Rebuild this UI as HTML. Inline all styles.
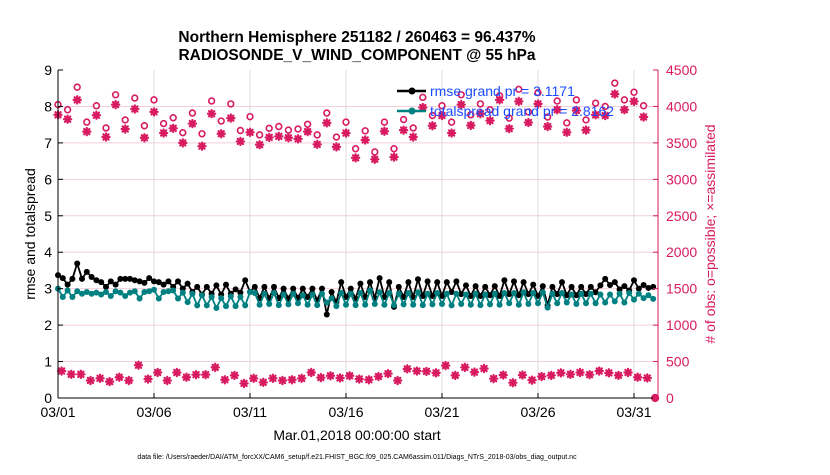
<!DOCTYPE html>
<html><head><meta charset="utf-8"><style>
body{margin:0;background:#fff;width:830px;height:470px;overflow:hidden;font-family:"Liberation Sans",sans-serif}
svg text{font-family:"Liberation Sans",sans-serif}
</style></head><body>
<svg id="chart" width="830" height="470" xmlns="http://www.w3.org/2000/svg">
<text x="357" y="42" text-anchor="middle" font-size="15.5" font-weight="bold">Northern Hemisphere 251182 / 260463 = 96.437%</text>
<text x="357" y="60" text-anchor="middle" font-size="15.5" font-weight="bold">RADIOSONDE_V_WIND_COMPONENT @ 55 hPa</text>
<g id="grid"></g>
<g id="marks"></g>
<g id="axes"></g>
<text transform="translate(35,234) rotate(-90)" text-anchor="middle" font-size="14">rmse and totalspread</text>
<text transform="translate(715,234) rotate(-90)" text-anchor="middle" font-size="14" fill="#d81b60"># of obs: o=possible; ×=assimilated</text>
<text x="357" y="440" text-anchor="middle" font-size="14">Mar.01,2018 00:00:00 start</text>
<text x="357" y="459" text-anchor="middle" font-size="7">data file: /Users/raeder/DAI/ATM_forcXX/CAM6_setup/f.e21.FHIST_BGC.f09_025.CAM6assim.011/Diags_NTrS_2018-03/obs_diag_output.nc</text>
<g id="legend">
<line x1="397" y1="91" x2="426" y2="91" stroke="#000" stroke-width="2.5"/>
<circle cx="412" cy="91" r="3.5" fill="#000"/>
<text x="430" y="96" font-size="14" fill="#1a4cff">rmse grand pr = 3.1171</text>
<line x1="397" y1="111" x2="426" y2="111" stroke="#008080" stroke-width="2.5"/>
<circle cx="412" cy="111" r="3.5" fill="#008080"/>
<text x="430" y="116" font-size="14" fill="#1a4cff">totalspread grand pr = 2.8162</text>
</g>
</svg>
<script>
const rmse=[3.37,3.29,3.11,3.27,3.69,3.27,3.46,3.32,3.23,3.18,3.05,3.20,3.11,3.27,3.27,3.27,3.23,3.20,3.16,3.29,3.20,3.18,3.11,3.20,3.05,3.20,3.0,3.14,2.91,3.05,2.84,3.05,2.86,3.09,2.84,3.11,2.86,2.98,2.89,3.23,2.91,
3.05,2.74,3.05,2.73,3.05,2.74,3.0,2.73,3.0,2.75,3.0,2.77,3.0,2.68,3.0,2.29,2.91,2.63,3.18,2.77,3.0,2.73,3.14,2.77,3.18,2.74,3.29,2.77,3.18,2.5,3.05,2.77,3.18,2.77,3.26,2.8,3.20,2.8,3.18,2.8,3.18,
2.91,3.2,2.85,3.09,2.8,3.07,2.8,3.05,2.82,3.07,2.8,3.23,2.85,3.2,2.82,3.18,2.85,3.11,2.8,3.07,2.54,3.05,2.85,3.18,2.82,3.05,2.82,3.05,2.85,3.05,2.9,3.09,3.27,3.1,3.18,2.98,3.07,2.95,3.23,3.0,3.1,3.02,3.05];
const spread=[3.0,2.77,2.95,2.77,2.93,2.86,2.91,2.86,2.89,2.84,2.91,2.80,2.93,2.89,2.80,2.89,2.93,2.73,2.91,2.93,2.97,2.73,2.91,2.93,2.95,2.73,2.89,2.63,2.86,2.54,2.82,2.54,2.77,2.47,2.74,2.52,2.79,2.52,2.77,2.54,2.91,
2.88,2.56,2.86,2.58,2.88,2.55,2.84,2.57,2.86,2.6,2.82,2.56,2.84,2.55,2.86,2.62,2.74,2.52,2.88,2.56,2.86,2.55,2.88,2.56,2.95,2.58,2.9,2.56,2.88,2.55,2.86,2.57,2.88,2.56,2.9,2.55,2.86,2.57,2.88,2.58,2.86,
2.54,2.86,2.58,2.84,2.56,2.86,2.55,2.84,2.57,2.86,2.56,2.88,2.6,2.88,2.56,2.9,2.58,2.88,2.6,2.9,2.48,2.86,2.6,2.88,2.62,2.84,2.58,2.86,2.6,2.86,2.6,2.84,2.62,2.84,2.65,2.86,2.62,2.88,2.7,2.86,2.74,2.82,2.72];
const possible=[4025,3955,4265,3785,4010,3705,4160,3815,4115,3735,4090,3765,3845,3640,3910,3625,4075,3800,4035,3670,3860,3610,3700,3725,3675,3690,3755,3610,3910,3580,3785,3420,3665,
3375,3785,3420,3820,3705,4125,3875,4010,3785,4160,3885,4035,3955,4145,3840,4235,3925,4190,3855,4075,3775,4090,3815,4045,4000,4320,4090,4195,4010];
const assimilated=[3885,3825,4090,3655,3880,3580,4025,3690,3965,3570,3925,3635,3700,3500,3765,3455,3900,3625,3840,3520,3645,3475,3575,3590,3570,3555,3655,3480,3775,3445,3635,3295,3540,
3275,3660,3305,3675,3580,3985,3735,3875,3635,4025,3740,3900,3805,4090,3695,4070,3780,4035,3725,3955,3645,3945,3675,3885,3875,4170,3955,4070,3855];
const lowAssim=[370,325,325,240,270,225,285,240,450,260,350,240,350,285,320,320,420,250,310,200,270,215,270,240,250,270,350,280,305,275,305,260,
250,295,335,240,400,370,365,345,445,310,420,355,405,265,315,210,315,245,295,310,345,325,350,320,370,345,310,350,285,275];
const xTickDays=[0,5,10,15,20,25,30];
const xTickLabels=["03/01","03/06","03/11","03/16","03/21","03/26","03/31"];
const yLeftTicks=[0,1,2,3,4,5,6,7,8,9];
const yRightTicks=[0,500,1000,1500,2000,2500,3000,3500,4000,4500];

const NS="http://www.w3.org/2000/svg";
const X0=58,X1=658,Y0=398,Y1=70,DMAX=31.25;
const CR="#d81b60",TEAL="#008080";
function xs(d){return X0+d*(X1-X0)/DMAX;}
function yl(v){return Y0-v*(Y0-Y1)/9;}
function yr(n){return Y0-n*(Y0-Y1)/4500;}
function mk(tag,attrs,parent){const e=document.createElementNS(NS,tag);for(const k in attrs)e.setAttribute(k,attrs[k]);parent.appendChild(e);return e;}
const grid=document.getElementById('grid'),marks=document.getElementById('marks'),axes=document.getElementById('axes');

yLeftTicks.forEach(v=>{if(v>0&&v<9){const l=mk('line',{x1:X0,x2:X1,y1:yl(v),y2:yl(v),stroke:'#f3cfdc','stroke-width':1},grid);

}});
xTickDays.forEach(d=>{if(d>0){const l=mk('line',{x1:xs(d),x2:xs(d),y1:Y1,y2:Y0,stroke:'#dcdcdc','stroke-width':1},grid);

}});

possible.forEach((n,i)=>{const c=mk('circle',{cx:xs(i*0.5),cy:yr(n),r:2.9,fill:'#fff',stroke:CR,'stroke-width':1.6},marks);

});
function star(x,y,name){const g=mk('g',{stroke:CR,'stroke-width':2.2,'stroke-linecap':'round'},marks);


mk('line',{x1:x-3.6,x2:x+3.6,y1:y,y2:y},g);mk('line',{x1:x,x2:x,y1:y-3.6,y2:y+3.6},g);
mk('line',{x1:x-2.6,x2:x+2.6,y1:y-2.6,y2:y+2.6},g);mk('line',{x1:x-2.6,x2:x+2.6,y1:y+2.6,y2:y-2.6},g);}
assimilated.forEach((n,i)=>star(xs(i*0.5),yr(n),'obs-assimilated-point'));
lowAssim.forEach((n,i)=>star(xs(0.19+i*0.5),yr(n),'obs-assimilated-low-point'));
const z=mk('circle',{cx:xs(31.1),cy:yr(0),r:3.2,fill:CR,stroke:CR,'stroke-width':1.8},marks);



function series(vals,color,name){
 const pts=vals.map((v,i)=>xs(i*0.25).toFixed(1)+','+yl(v).toFixed(1)).join(' ');
 const p=mk('polyline',{points:pts,fill:'none',stroke:color,'stroke-width':1.8},marks);
 
 
 vals.forEach((v,i)=>{const c=mk('circle',{cx:xs(i*0.25),cy:yl(v),r:3.0,fill:color},marks);
 
 });
}
series(rmse,'#000','rmse');
series(spread,TEAL,'totalspread');

mk('line',{x1:X0,x2:X0,y1:Y1,y2:Y0,stroke:'#000','stroke-width':1},axes);
mk('line',{x1:X0,x2:X1,y1:Y0,y2:Y0,stroke:'#000','stroke-width':1},axes);
mk('line',{x1:X1,x2:X1,y1:Y1,y2:Y0,stroke:CR,'stroke-width':1},axes);
yLeftTicks.forEach(v=>{mk('line',{x1:X0,x2:X0+5,y1:yl(v),y2:yl(v),stroke:'#000'},axes);
 const t=mk('text',{x:X0-6,y:yl(v)+5,'text-anchor':'end','font-size':14},axes);t.textContent=v;
 
 });
yRightTicks.forEach(n=>{mk('line',{x1:X1-5,x2:X1,y1:yr(n),y2:yr(n),stroke:CR},axes);
 const t=mk('text',{x:X1+8,y:yr(n)+5,'font-size':14,fill:CR},axes);t.textContent=n;
 
 });
xTickDays.forEach((d,i)=>{mk('line',{x1:xs(d),x2:xs(d),y1:Y0-5,y2:Y0,stroke:'#000'},axes);
 const t=mk('text',{x:xs(d),y:Y0+19,'text-anchor':'middle','font-size':14},axes);t.textContent=xTickLabels[i];
 
 });
</script>
</body></html>
